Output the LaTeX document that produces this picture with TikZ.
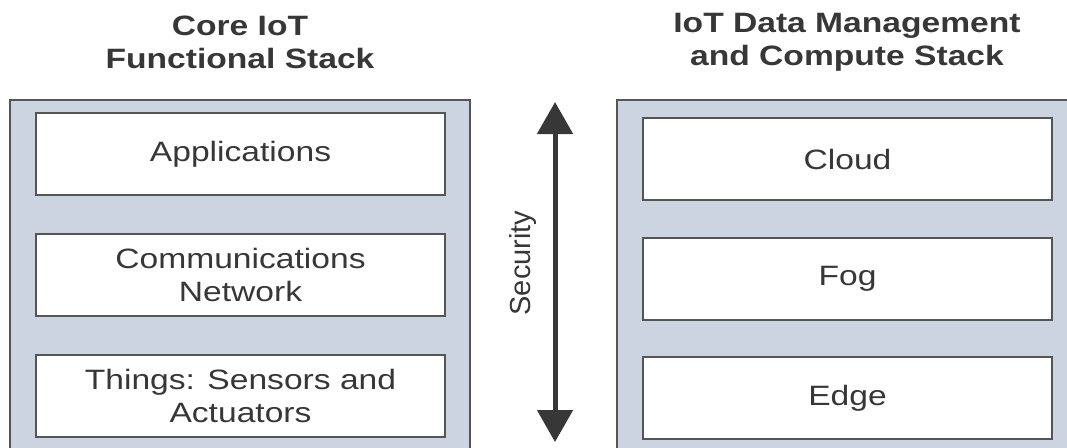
\documentclass[tikz,border=0pt]{standalone}
\usepackage{fontspec}
\setmainfont{Liberation Sans}[FakeStretch=1.2]
\newfontfamily\secfont{Liberation Sans}
\usetikzlibrary{arrows.meta}

\definecolor{panelblue}{RGB}{205,212,225}
\definecolor{edgegray}{RGB}{85,85,85}
\definecolor{textgray}{RGB}{55,55,55}

\begin{document}
\begin{tikzpicture}[x=1pt,y=-1pt,node distance=121pt,
  layer box/.style={rectangle,draw=edgegray,line width=2pt,fill=white,
    minimum width=409pt,minimum height=82pt,align=center,text=textgray,
    font=\fontsize{28}{33}\selectfont},
  head/.style={align=center,text=textgray,font=\fontsize{28}{33}\selectfont\bfseries},
  panel/.style={fill=panelblue,draw=edgegray,line width=2pt},
  sec arrow/.style={{Triangle[width=35pt,length=32pt]}-{Triangle[width=35pt,length=32pt]},
    line width=5pt,draw=textgray}]
  \useasboundingbox (0,0) rectangle (1067,447);
  \clip (0,0) rectangle (1067,447);

  % panels
  \draw[panel] (10,460) -- (10,100) -- (470,100) -- (470,460);
  \draw[panel] (617,460) -- (617,100) -- (1080,100) -- (1080,460);

  % headers
  \node[head] (corehead) at (240,42) {Core IoT\\Functional Stack};
  \node[head] (datahead) at (847,42) {IoT Data Management\\and Compute Stack};

  % core stack
  \node[layer box] (apps) at (240.5,154) {Applications};
  \node[layer box] (comm) [below of=apps] {Communications\\Network};
  \node[layer box] (things) [below of=comm] {Things: Sensors and\\Actuators};

  % compute stack
  \node[layer box] (cloud) at (847.5,159) {Cloud};
  \node[layer box] (fog) [below of=cloud,node distance=120pt] {Fog};
  \node[layer box] (edge) [below of=fog,node distance=119pt] {Edge};

  % security
  \coordinate (sectop) at (555,102);
  \coordinate (secbot) at (555,442);
  \draw[sec arrow] (sectop) -- (secbot);
  \node[rotate=90,text=textgray,font=\fontsize{29}{33}\secfont] (security) at (523,263) {Security};
\end{tikzpicture}
\end{document}
